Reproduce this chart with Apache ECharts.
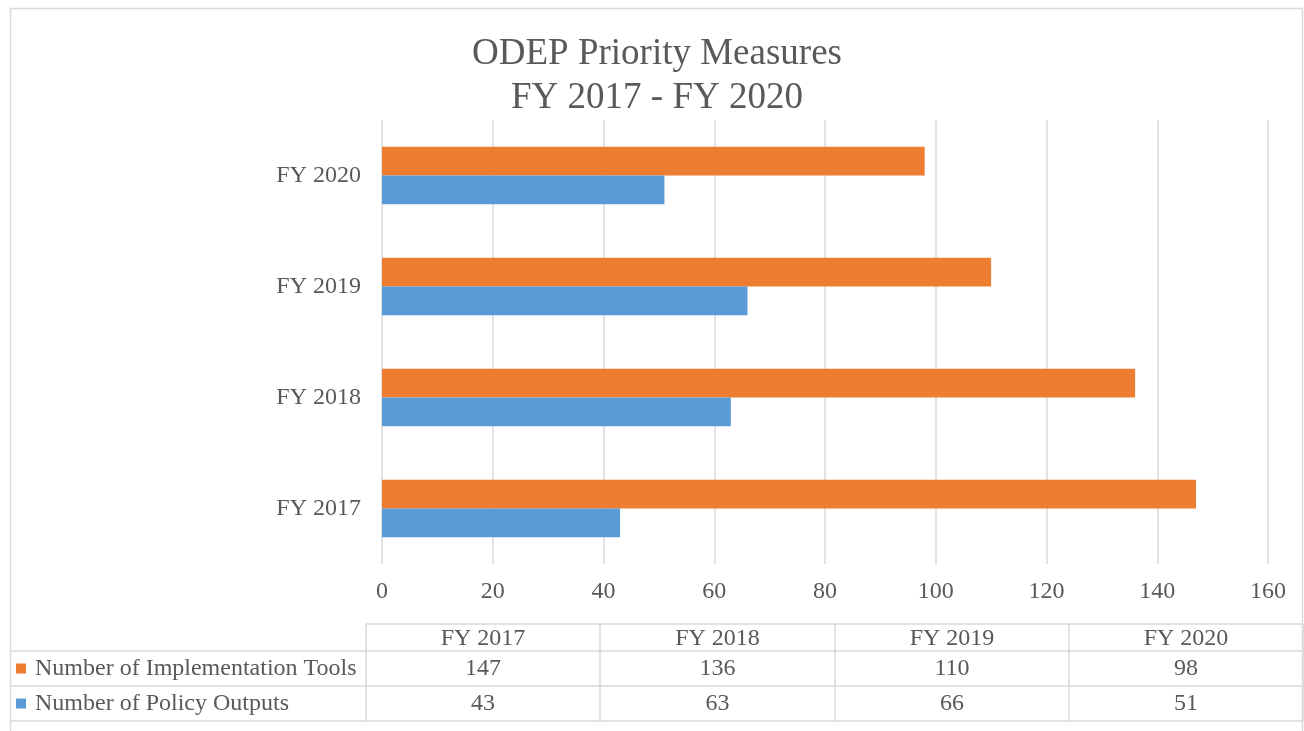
<!DOCTYPE html>
<html>
<head>
<meta charset="utf-8">
<style>
  html, body { margin: 0; padding: 0; background: #fff; }
  #chart { width: 1304px; height: 731px; }
</style>
<script src="https://cdn.jsdelivr.net/npm/echarts@6/dist/echarts.min.js"></script>
</head>
<body>
<div id="chart"></div>
<script>
const categories = ["FY 2017", "FY 2018", "FY 2019", "FY 2020"];
const implementationTools = [147, 136, 110, 98];
const policyOutputs = [43, 63, 66, 51];
const seriesNames = ["Number of Implementation Tools", "Number of Policy Outputs"];
const colors = ["#ED7D31", "#5B9BD5"];

const font = "Liberation Serif, Times New Roman, serif";
const textColor = "#595959";
const lineColor = "#d9d9d9";

const chartDom = document.getElementById("chart");
const myChart = echarts.init(chartDom);

// data table under the chart
const colX = [366, 600, 835, 1069, 1303];
const rowY = [624, 651, 686, 721];
const tableLeft = 10;
const table = [];

function hline(x1, x2, y) {
  table.push({
    type: "line",
    shape: { x1: x1, y1: y, x2: x2, y2: y },
    style: { stroke: lineColor, lineWidth: 1.5 },
  });
}
function vline(x, y1, y2) {
  table.push({
    type: "line",
    shape: { x1: x, y1: y1, x2: x, y2: y2 },
    style: { stroke: lineColor, lineWidth: 1.5 },
  });
}

hline(colX[0], colX[4], rowY[0]);
hline(tableLeft, colX[4], rowY[1]);
hline(tableLeft, colX[4], rowY[2]);
hline(tableLeft, colX[4], rowY[3]);
for (const x of colX) vline(x, rowY[0], rowY[3]);

categories.forEach((c, i) => {
  table.push({
    type: "text",
    x: (colX[i] + colX[i + 1]) / 2,
    y: (rowY[0] + rowY[1]) / 2 + 1,
    style: { text: c, fill: textColor, font: "24px " + font, align: "center", verticalAlign: "middle" },
  });
});

const rows = [implementationTools, policyOutputs];
rows.forEach((vals, r) => {
  const cy = (rowY[r + 1] + rowY[r + 2]) / 2;
  table.push({
    type: "rect",
    shape: { x: 16, y: cy - 5, width: 10, height: 10 },
    style: { fill: colors[r] },
  });
  table.push({
    type: "text",
    x: 35,
    y: cy,
    style: { text: seriesNames[r], fill: textColor, font: "24px " + font, align: "left", verticalAlign: "middle" },
  });
  vals.forEach((v, i) => {
    table.push({
      type: "text",
      x: (colX[i] + colX[i + 1]) / 2,
      y: cy,
      style: { text: String(v), fill: textColor, font: "24px " + font, align: "center", verticalAlign: "middle" },
    });
  });
});

// chart border
table.push({
  type: "rect",
  shape: { x: 10.5, y: 8.5, width: 1292, height: 760 },
  style: { fill: "none", stroke: lineColor, lineWidth: 1.5 },
  z: -1,
});

const option = {
  animation: false,
  title: {
    text: "ODEP Priority Measures\nFY 2017 - FY 2020",
    left: 652,
    top: 27,
    textAlign: "center",
    textStyle: {
      fontFamily: font,
      fontSize: 37,
      fontWeight: "normal",
      color: textColor,
      lineHeight: 44,
    },
  },
  grid: {
    left: 382,
    right: 36,
    top: 120,
    bottom: 167,
  },
  xAxis: {
    type: "value",
    min: 0,
    max: 160,
    interval: 20,
    axisLine: { show: false },
    axisTick: { show: false },
    axisLabel: { color: textColor, fontFamily: font, fontSize: 24, margin: 16 },
    splitLine: { lineStyle: { color: lineColor, width: 1.5 } },
  },
  yAxis: {
    type: "category",
    data: categories,
    axisLine: { show: false },
    axisTick: { show: false },
    axisLabel: { color: textColor, fontFamily: font, fontSize: 24, margin: 21 },
  },
  series: [
    {
      name: seriesNames[0],
      type: "bar",
      data: implementationTools,
      itemStyle: { color: colors[0] },
      barGap: "0%",
      barCategoryGap: "48%",
    },
    {
      name: seriesNames[1],
      type: "bar",
      data: policyOutputs,
      itemStyle: { color: colors[1] },
      barGap: "0%",
      barCategoryGap: "48%",
    },
  ],
  graphic: table,
};

myChart.setOption(option);

window.addEventListener("resize", function () {
  myChart.resize();
});
</script>
</body>
</html>
